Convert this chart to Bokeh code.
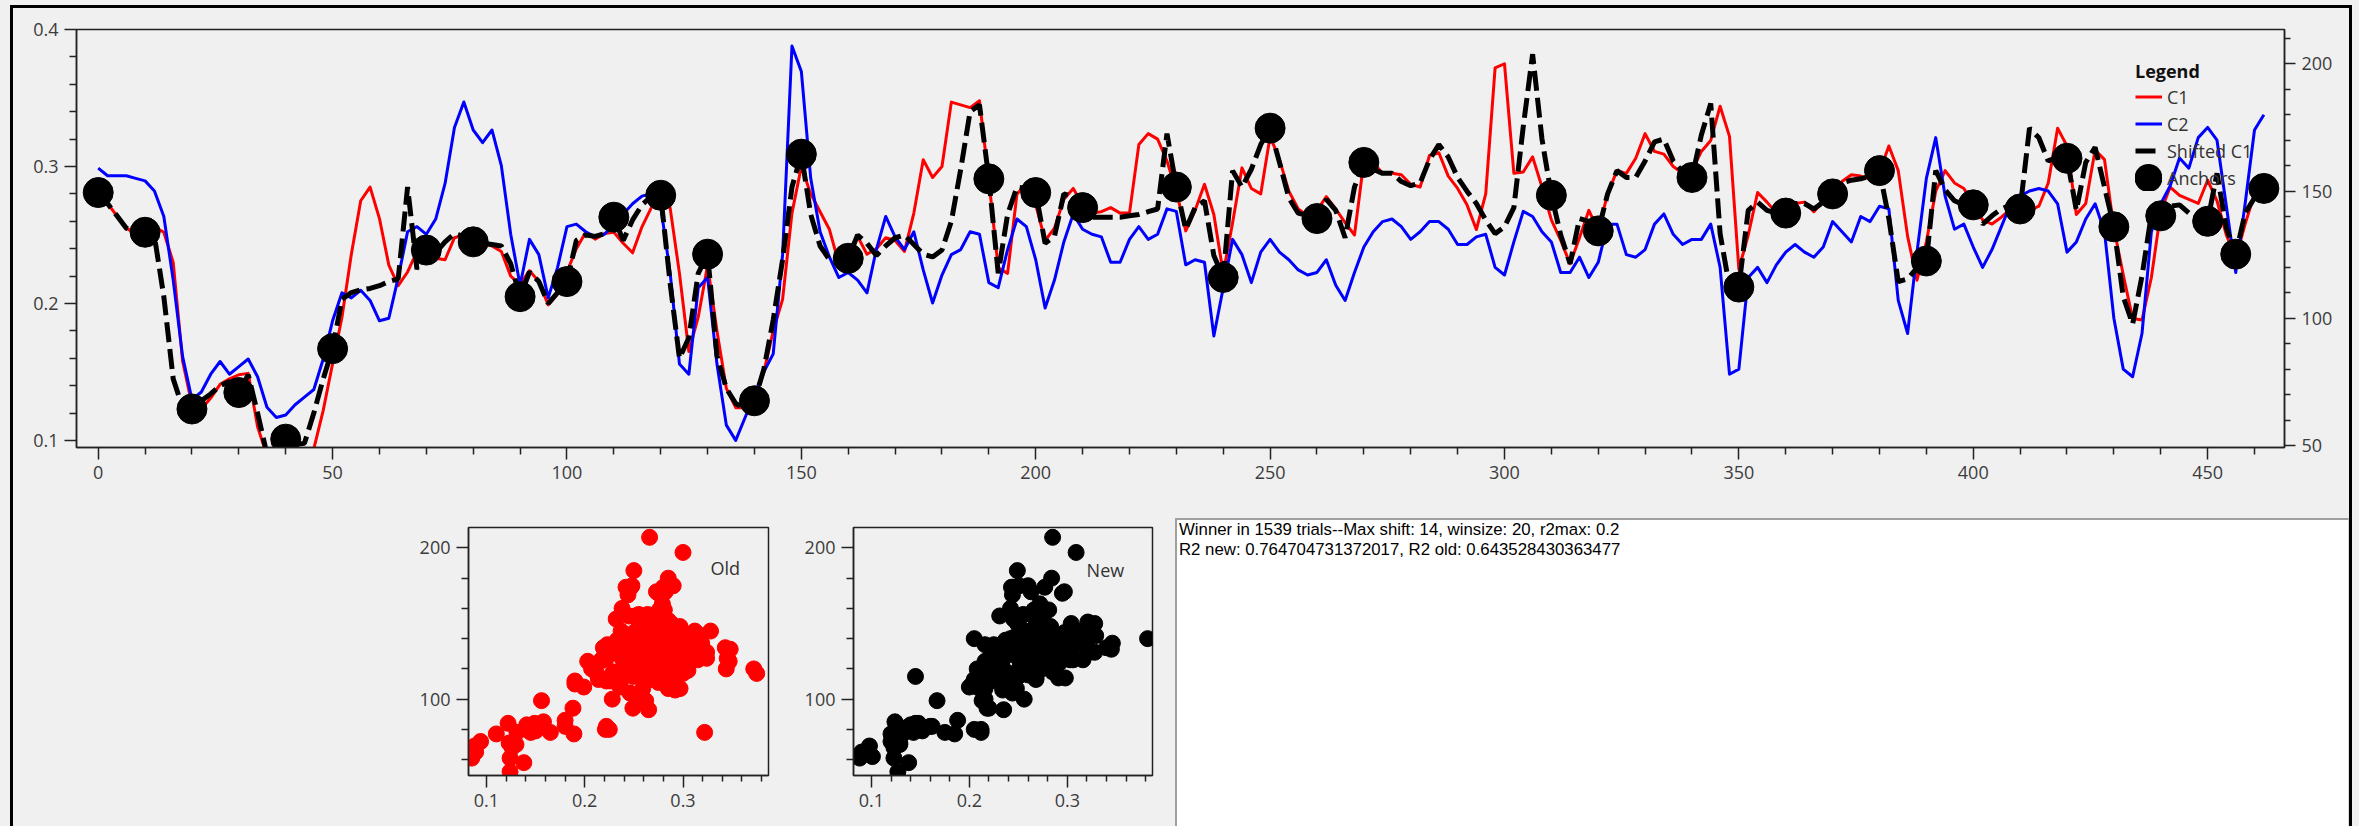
from bokeh.plotting import figure
from bokeh.models import Range1d, LinearAxis, FixedTicker, Legend, LegendItem, Label, Div, Spacer
from bokeh.layouts import row, column
from bokeh.embed import file_html
from bokeh.resources import INLINE

# ---------------------------------------------------------------- data
sample_index = list(range(0, 463, 2))

c1 = [
    0.281, 0.273, 0.264, 0.255, 0.251, 0.252, 0.256, 0.252, 0.230, 0.158,
    0.126, 0.123, 0.131, 0.141, 0.145, 0.148, 0.149, 0.110, 0.089, 0.085,
    0.085, 0.086, 0.088, 0.094, 0.122, 0.156, 0.190, 0.236, 0.275, 0.285,
    0.262, 0.228, 0.213, 0.223, 0.238, 0.239, 0.233, 0.232, 0.248, 0.250,
    0.247, 0.244, 0.242, 0.238, 0.220, 0.214, 0.224, 0.216, 0.199, 0.207,
    0.223, 0.240, 0.252, 0.247, 0.251, 0.252, 0.244, 0.237, 0.256, 0.270,
    0.278, 0.270, 0.222, 0.165, 0.190, 0.228, 0.180, 0.138, 0.124, 0.124,
    0.130, 0.150, 0.180, 0.203, 0.266, 0.300, 0.280, 0.267, 0.254, 0.229,
    0.238, 0.249, 0.236, 0.240, 0.248, 0.246, 0.238, 0.266, 0.305, 0.292,
    0.300, 0.347, 0.345, 0.343, 0.348, 0.290, 0.226, 0.222, 0.280, 0.287,
    0.272, 0.246, 0.255, 0.276, 0.284, 0.272, 0.266, 0.267, 0.270, 0.266,
    0.266, 0.316, 0.324, 0.320, 0.304, 0.282, 0.253, 0.268, 0.287, 0.265,
    0.222, 0.259, 0.299, 0.284, 0.280, 0.322, 0.305, 0.282, 0.269, 0.264,
    0.268, 0.278, 0.269, 0.259, 0.250, 0.304, 0.303, 0.295, 0.295, 0.294,
    0.287, 0.285, 0.308, 0.310, 0.293, 0.284, 0.272, 0.254, 0.280, 0.372,
    0.375, 0.295, 0.296, 0.307, 0.285, 0.261, 0.246, 0.229, 0.248, 0.268,
    0.253, 0.280, 0.297, 0.295, 0.306, 0.324, 0.311, 0.309, 0.300, 0.295,
    0.297, 0.311, 0.319, 0.344, 0.322, 0.225, 0.250, 0.281, 0.274, 0.266,
    0.266, 0.273, 0.274, 0.267, 0.275, 0.282, 0.289, 0.294, 0.293, 0.291,
    0.296, 0.315, 0.297, 0.249, 0.217, 0.245, 0.282, 0.297, 0.288, 0.284,
    0.273, 0.261, 0.258, 0.263, 0.269, 0.269, 0.268, 0.271, 0.288, 0.328,
    0.315, 0.265, 0.273, 0.312, 0.305, 0.255, 0.221, 0.189, 0.188, 0.219,
    0.267, 0.285, 0.279, 0.276, 0.273, 0.290, 0.275, 0.250, 0.233, 0.258,
    0.280, 0.285,
]

c2 = [
    159, 156, 156, 156, 155, 154, 150, 140, 115, 85,
    68, 71, 78, 83, 78, 81, 84, 77, 65, 61,
    62, 66, 69, 72, 84, 99, 110, 108, 111, 107,
    99, 100, 116, 134, 136, 133, 139, 153, 175, 185,
    174, 169, 174, 160, 133, 113, 131, 125, 108, 120,
    136, 137, 134, 132, 133, 137, 141, 145, 148, 149,
    144, 118, 82, 78, 112, 116, 82, 58, 52, 61,
    70, 79, 86, 125, 207, 197, 155, 134, 124, 116,
    118, 115, 110, 127, 140, 132, 127, 134, 119, 106,
    117, 125, 127, 134, 133, 114, 112, 127, 139, 136,
    123, 104, 115, 130, 141, 135, 133, 132, 122, 122,
    131, 136, 131, 133, 143, 142, 121, 123, 122, 93,
    112, 131, 125, 114, 126, 131, 126, 123, 119, 117,
    118, 123, 113, 107, 118, 128, 134, 138, 139, 136,
    131, 134, 138, 138, 135, 129, 129, 132, 133, 120,
    117, 130, 142, 140, 134, 130, 118, 118, 124, 116,
    122, 137, 137, 125, 124, 127, 137, 141, 133, 129,
    131, 131, 137, 120, 78, 80, 116, 120, 114, 121,
    126, 129, 126, 124, 128, 138, 134, 130, 140, 138,
    144, 143, 107, 94, 126, 155, 171, 148, 135, 137,
    128, 120, 127, 136, 145, 148, 150, 151, 150, 145,
    126, 130, 139, 145, 134, 100, 80, 77, 94, 134,
    145, 152, 163, 159, 171, 175, 170, 144, 118, 145,
    174, 180,
]

shifted_c1 = [
    0.281, 0.273, 0.264, 0.255, 0.252, 0.252, 0.249, 0.205, 0.145, 0.124,
    0.123, 0.129, 0.134, 0.140, 0.143, 0.135, 0.148, 0.120, 0.090, 0.088,
    0.101, 0.097, 0.098, 0.120, 0.145, 0.167, 0.203, 0.208, 0.210, 0.211,
    0.213, 0.216, 0.218, 0.285, 0.225, 0.239, 0.237, 0.245, 0.251, 0.249,
    0.245, 0.244, 0.243, 0.242, 0.229, 0.205, 0.223, 0.216, 0.200, 0.208,
    0.216, 0.246, 0.250, 0.249, 0.251, 0.263, 0.246, 0.261, 0.272, 0.278,
    0.279, 0.215, 0.160, 0.175, 0.222, 0.236, 0.162, 0.138, 0.127, 0.123,
    0.129, 0.152, 0.188, 0.232, 0.285, 0.309, 0.265, 0.242, 0.232, 0.229,
    0.233, 0.250, 0.244, 0.235, 0.242, 0.248, 0.250, 0.243, 0.236, 0.234,
    0.239, 0.260, 0.298, 0.340, 0.345, 0.291, 0.222, 0.265, 0.285, 0.284,
    0.281, 0.244, 0.249, 0.280, 0.278, 0.270, 0.263, 0.263, 0.263, 0.263,
    0.264, 0.265, 0.267, 0.269, 0.324, 0.285, 0.254, 0.270, 0.275, 0.235,
    0.219, 0.297, 0.285, 0.298, 0.316, 0.328, 0.303, 0.277, 0.266, 0.264,
    0.262, 0.276, 0.268, 0.248, 0.285, 0.303, 0.298, 0.295, 0.295, 0.289,
    0.286, 0.288, 0.305, 0.316, 0.307, 0.292, 0.282, 0.273, 0.261, 0.251,
    0.256, 0.270, 0.329, 0.382, 0.320, 0.279, 0.250, 0.229, 0.262, 0.260,
    0.253, 0.280, 0.297, 0.292, 0.292, 0.304, 0.318, 0.320, 0.304, 0.296,
    0.292, 0.323, 0.346, 0.251, 0.212, 0.212, 0.268, 0.274, 0.268, 0.266,
    0.266, 0.273, 0.273, 0.269, 0.274, 0.280, 0.288, 0.290, 0.291, 0.293,
    0.297, 0.262, 0.216, 0.218, 0.226, 0.231, 0.297, 0.283, 0.275, 0.272,
    0.272, 0.258, 0.264, 0.269, 0.272, 0.269, 0.328, 0.321, 0.304, 0.307,
    0.306, 0.268, 0.303, 0.314, 0.285, 0.256, 0.205, 0.185, 0.220, 0.265,
    0.264, 0.271, 0.272, 0.266, 0.263, 0.260, 0.295, 0.255, 0.236, 0.266,
    0.277, 0.284,
]

anchor_index = [0, 10, 20, 30, 40, 50, 70, 80, 90, 100, 110, 120, 130, 140,
                150, 160, 190, 200, 210, 230, 240, 250, 260, 270, 310, 320,
                340, 350, 360, 370, 380, 390, 400, 410, 420, 430, 440, 450,
                456, 462]

assert len(c1) == len(c2) == len(shifted_c1) == len(sample_index)
anchor_value = [shifted_c1[sample_index.index(i)] for i in anchor_index]

# tick positions
x_ticks = [0, 50, 100, 150, 200, 250, 300, 350, 400, 450]
x_minor = [10, 20, 30, 40, 60, 70, 80, 90, 110, 120, 130, 140, 160, 170, 180,
           190, 210, 220, 230, 240, 260, 270, 280, 290, 310, 320, 330, 340,
           360, 370, 380, 390, 410, 420, 430, 440, 460]
c1_ticks = [0.1, 0.2, 0.3, 0.4]
c1_minor = [0.12, 0.14, 0.16, 0.18, 0.22, 0.24, 0.26, 0.28, 0.32, 0.34, 0.36, 0.38]
c2_ticks = [50, 100, 150, 200]
c2_minor = [60, 70, 80, 90, 110, 120, 130, 140, 160, 170, 180, 190, 210]
sc_x_ticks = [0.1, 0.2, 0.3]
sc_x_minor = [0.12, 0.14, 0.16, 0.18, 0.22, 0.24, 0.26, 0.28, 0.32, 0.34, 0.36, 0.38]
sc_y_ticks = [100, 200]
sc_y_minor = [60, 80, 120, 140, 160, 180]

summary_lines = [
    "Winner in 1539 trials--Max shift: 14, winsize: 20, r2max: 0.2",
    "R2 new: 0.764704731372017, R2 old: 0.643528430363477",
]

# ---------------------------------------------------------------- style
FONT = "Open Sans"
PANEL_BG = "#f0f0f0"
INK = "#222222"
LABEL_INK = "#3c3c3c"


def style_axis(axis, ticks, minor, major_out=12, minor_out=7):
    axis.ticker = FixedTicker(ticks=ticks, minor_ticks=minor)
    axis.axis_line_color = INK
    axis.axis_line_width = 1.5
    axis.major_tick_line_color = INK
    axis.major_tick_line_width = 1.5
    axis.minor_tick_line_color = INK
    axis.minor_tick_line_width = 1.5
    axis.major_tick_in = 0
    axis.major_tick_out = major_out
    axis.minor_tick_in = 0
    axis.minor_tick_out = minor_out
    axis.major_label_text_font = FONT
    axis.major_label_text_font_size = "18px"
    axis.major_label_text_color = LABEL_INK
    axis.major_label_standoff = 6


# ---------------------------------------------------------------- main chart
p = figure(width=2336, height=507,
           x_range=Range1d(-4.63, 466.4), y_range=Range1d(0.0949, 0.4),
           output_backend="svg", toolbar_location=None,
           min_border_left=63, min_border_right=65,
           min_border_top=21, min_border_bottom=68,
           background_fill_color=PANEL_BG, border_fill_color=PANEL_BG,
           outline_line_color=INK, outline_line_width=1.5, margin=0)
p.grid.visible = False
p.extra_y_ranges = {"c2": Range1d(49.2, 213.5)}
right_axis = LinearAxis(y_range_name="c2")
p.add_layout(right_axis, "right")

style_axis(p.xaxis[0], x_ticks, x_minor)
style_axis(p.yaxis[0], c1_ticks, c1_minor)
style_axis(right_axis, c2_ticks, c2_minor, major_out=11, minor_out=6)

r_c1 = p.line(sample_index, c1, line_color="#ff0000", line_width=3, line_join="round")
r_c2 = p.line(sample_index, c2, y_range_name="c2", line_color="#0000ff",
              line_width=3, line_join="round")
r_shift = p.line(sample_index, shifted_c1, line_color="black", line_width=5,
                 line_dash="20 7")
r_anchor = p.scatter(anchor_index, anchor_value, marker="circle", size=30,
                     line_width=1, fill_color="black", line_color="black")
# one-vertex line: draws nothing in the plot, gives the legend a large round dot
r_anchor_key = p.line([anchor_index[0]], [anchor_value[0]], line_color="black",
                      line_width=28, line_cap="round", line_dash="0 27",
                      line_dash_offset=14)

legend = Legend(
    items=[LegendItem(label="C1", renderers=[r_c1]),
           LegendItem(label="C2", renderers=[r_c2]),
           LegendItem(label="Shifted C1", renderers=[r_shift]),
           LegendItem(label="Anchors", renderers=[r_anchor, r_anchor_key])],
    title="Legend", location=(2059, 256),
    padding=0, margin=0, spacing=0, glyph_width=27, glyph_height=27,
    label_standoff=5, border_line_alpha=0, background_fill_alpha=0,
    label_text_font=FONT, label_text_font_size="18px", label_text_color="#333333",
    title_text_font=FONT, title_text_font_size="18px",
    title_text_font_style="bold", title_text_color="#111111", title_standoff=0,
)
legend.level = "underlay"
p.add_layout(legend)


# ---------------------------------------------------------------- scatter panels
def scatter_panel(xs, ys, color, tag, tag_x, tag_y, width, left):
    f = figure(width=width, height=311,
               x_range=Range1d(0.0817, 0.387), y_range=Range1d(49.5, 213.5),
               output_backend="svg", toolbar_location=None,
               min_border_left=left, min_border_right=12,
               min_border_top=12, min_border_bottom=51,
               background_fill_color=PANEL_BG, border_fill_color=PANEL_BG,
               outline_line_color=INK, outline_line_width=1.5, margin=0)
    f.grid.visible = False
    style_axis(f.xaxis[0], sc_x_ticks, sc_x_minor, major_out=12, minor_out=6)
    style_axis(f.yaxis[0], sc_y_ticks, sc_y_minor, major_out=12, minor_out=7)
    f.scatter(xs, ys, marker="circle", size=16, fill_color=color, line_color=color)
    f.add_layout(Label(x=tag_x, y=tag_y, text=tag, text_font=FONT,
                       text_font_size="18px", text_color="#333333",
                       text_baseline="middle"))
    return f


old_panel = scatter_panel(c1, c2, "#ff0000", "Old", 0.328, 187, 380, 68)
new_panel = scatter_panel(shifted_c1, c2, "black", "New", 0.3197, 185.7, 384, 73)

summary = Div(
    text=('<div style="font-family:\'Liberation Sans\',Arial,sans-serif;'
          'font-size:16.8px;line-height:20px;color:#000;padding:0 2px;'
          'white-space:nowrap;">' + "<br>".join(summary_lines) + "</div>"),
    width=1174, height=308, margin=0,
    styles={"background-color": "white", "border-top": "2px solid #a0a0a0",
            "border-left": "2px solid #a0a0a0", "border-right": "1px solid #dcdcdc",
            "box-sizing": "border-box"})


def bar(w, h):
    return Div(text="", width=w, height=h, margin=0,
               styles={"background-color": "black"})


def gap(w, h):
    return Spacer(width=w, height=h, margin=0,
                  styles={"background-color": PANEL_BG})


bottom = row([gap(387, 311), old_panel, new_panel, gap(11, 311),
              column([gap(1174, 3), summary], spacing=0)],
             spacing=0)
inner = column([bar(2336, 3), p, bottom], spacing=0)
page = column([gap(2359, 5),
               row([gap(10, 821), bar(3, 821), inner, bar(3, 821), gap(7, 821)],
                   spacing=0)],
              spacing=0)

html = file_html(page, INLINE, title="C1 / C2 shift search")
html = html.replace("</head>",
                    "<style>html, body { margin: 0; background: #f0f0f0 !important; }</style></head>",
                    1)
open("out.html", "w").write(html)
